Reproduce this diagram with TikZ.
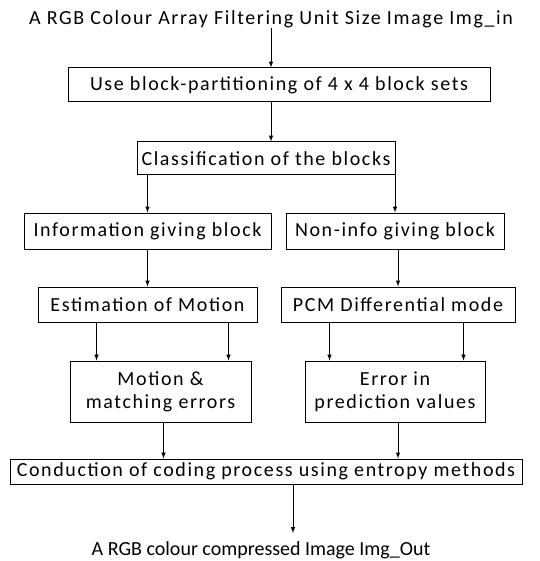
\documentclass[tikz,border=0pt]{standalone}
\usepackage{fontspec}
\setmainfont[LetterSpace=8]{Carlito}
\usetikzlibrary{arrows,calc,positioning}
\tikzset{%
	block/.style = {draw, rectangle, line width=1pt, inner sep=0pt, align=center}, % Process box
	io/.style    = {rectangle, inner sep=0pt}, % Input / Output text
	flow/.style  = {-latex, line width=1pt}, % Connector
}
\begin{document}
\begin{tikzpicture}[x=1pt, y=-1pt, font=\fontsize{20}{23}\selectfont]
		\useasboundingbox (0,0) rectangle (539,561);
		\node[io] (in) at (271,19) {A RGB Colour Array Filtering Unit Size Image Img\_in};
		\node[block, minimum width=422pt, minimum height=34pt] (part) at (279,85) {Use block-partitioning of 4 x 4 block sets};
		\node[block, minimum width=258pt, minimum height=33pt] (cls) at (266,158.5) {Classification of the blocks};
		\node[block, minimum width=247pt, minimum height=36pt] (info) at (147.5,231) {Information giving block};
		\node[block, minimum width=218pt, minimum height=36pt] (noninfo) at (395,231) {Non-info giving block};
		\node[block, minimum width=219pt, minimum height=35pt] (est) at (147.5,304.5) {Estimation of Motion};
		\node[block, minimum width=234pt, minimum height=35pt] (pcm) at (398,304.5) {PCM Differential mode};
		\node[block, minimum width=181pt, minimum height=61pt] (match) at (160.5,391.5) {Motion \&\\matching errors};
		\node[block, minimum width=180pt, minimum height=61pt] (pred) at (395,391.5) {Error in\\prediction values};
		\node[block, minimum width=512pt, minimum height=25pt] (code) at (266,471.5) {Conduction of coding process using entropy methods};
		\node[io, font=\fontsize{20}{23}\selectfont\addfontfeature{LetterSpace=0}] (out) at (261,550) {A RGB colour compressed Image Img\_Out};
		% split points below the motion / pcm boxes
		\coordinate (m1) at ([xshift=27pt]match.north west);
		\coordinate (m2) at ([xshift=-23pt]match.north east);
		\coordinate (p1) at ([xshift=25pt]pred.north west);
		\coordinate (p2) at ([xshift=-22pt]pred.north east);
		\coordinate (o) at (293,533);
		\draw[flow] (in.south) -- (in.south |- part.north);
		\draw[flow] (in.south |- part.south) -- (in.south |- cls.north);
		\draw[flow] (info.north |- cls.south) -- (info.north);
		\draw[flow] (noninfo.north |- cls.south) -- (noninfo.north);
		\draw[flow] (info) -- (est);
		\draw[flow] (pcm.north |- noninfo.south) -- (pcm.north);
		\draw[flow] (m1 |- est.south) -- (m1);
		\draw[flow] (m2 |- est.south) -- (m2);
		\draw[flow] (p1 |- pcm.south) -- (p1);
		\draw[flow] (p2 |- pcm.south) -- (p2);
		\draw[flow] ([xshift=3pt]match.south) -- ([xshift=3pt]match.south |- code.north);
		\draw[flow] ([xshift=3pt]pred.south) -- ([xshift=3pt]pred.south |- code.north);
		\draw[flow] (o |- code.south) -- (o);
		\end{tikzpicture}
\end{document}
